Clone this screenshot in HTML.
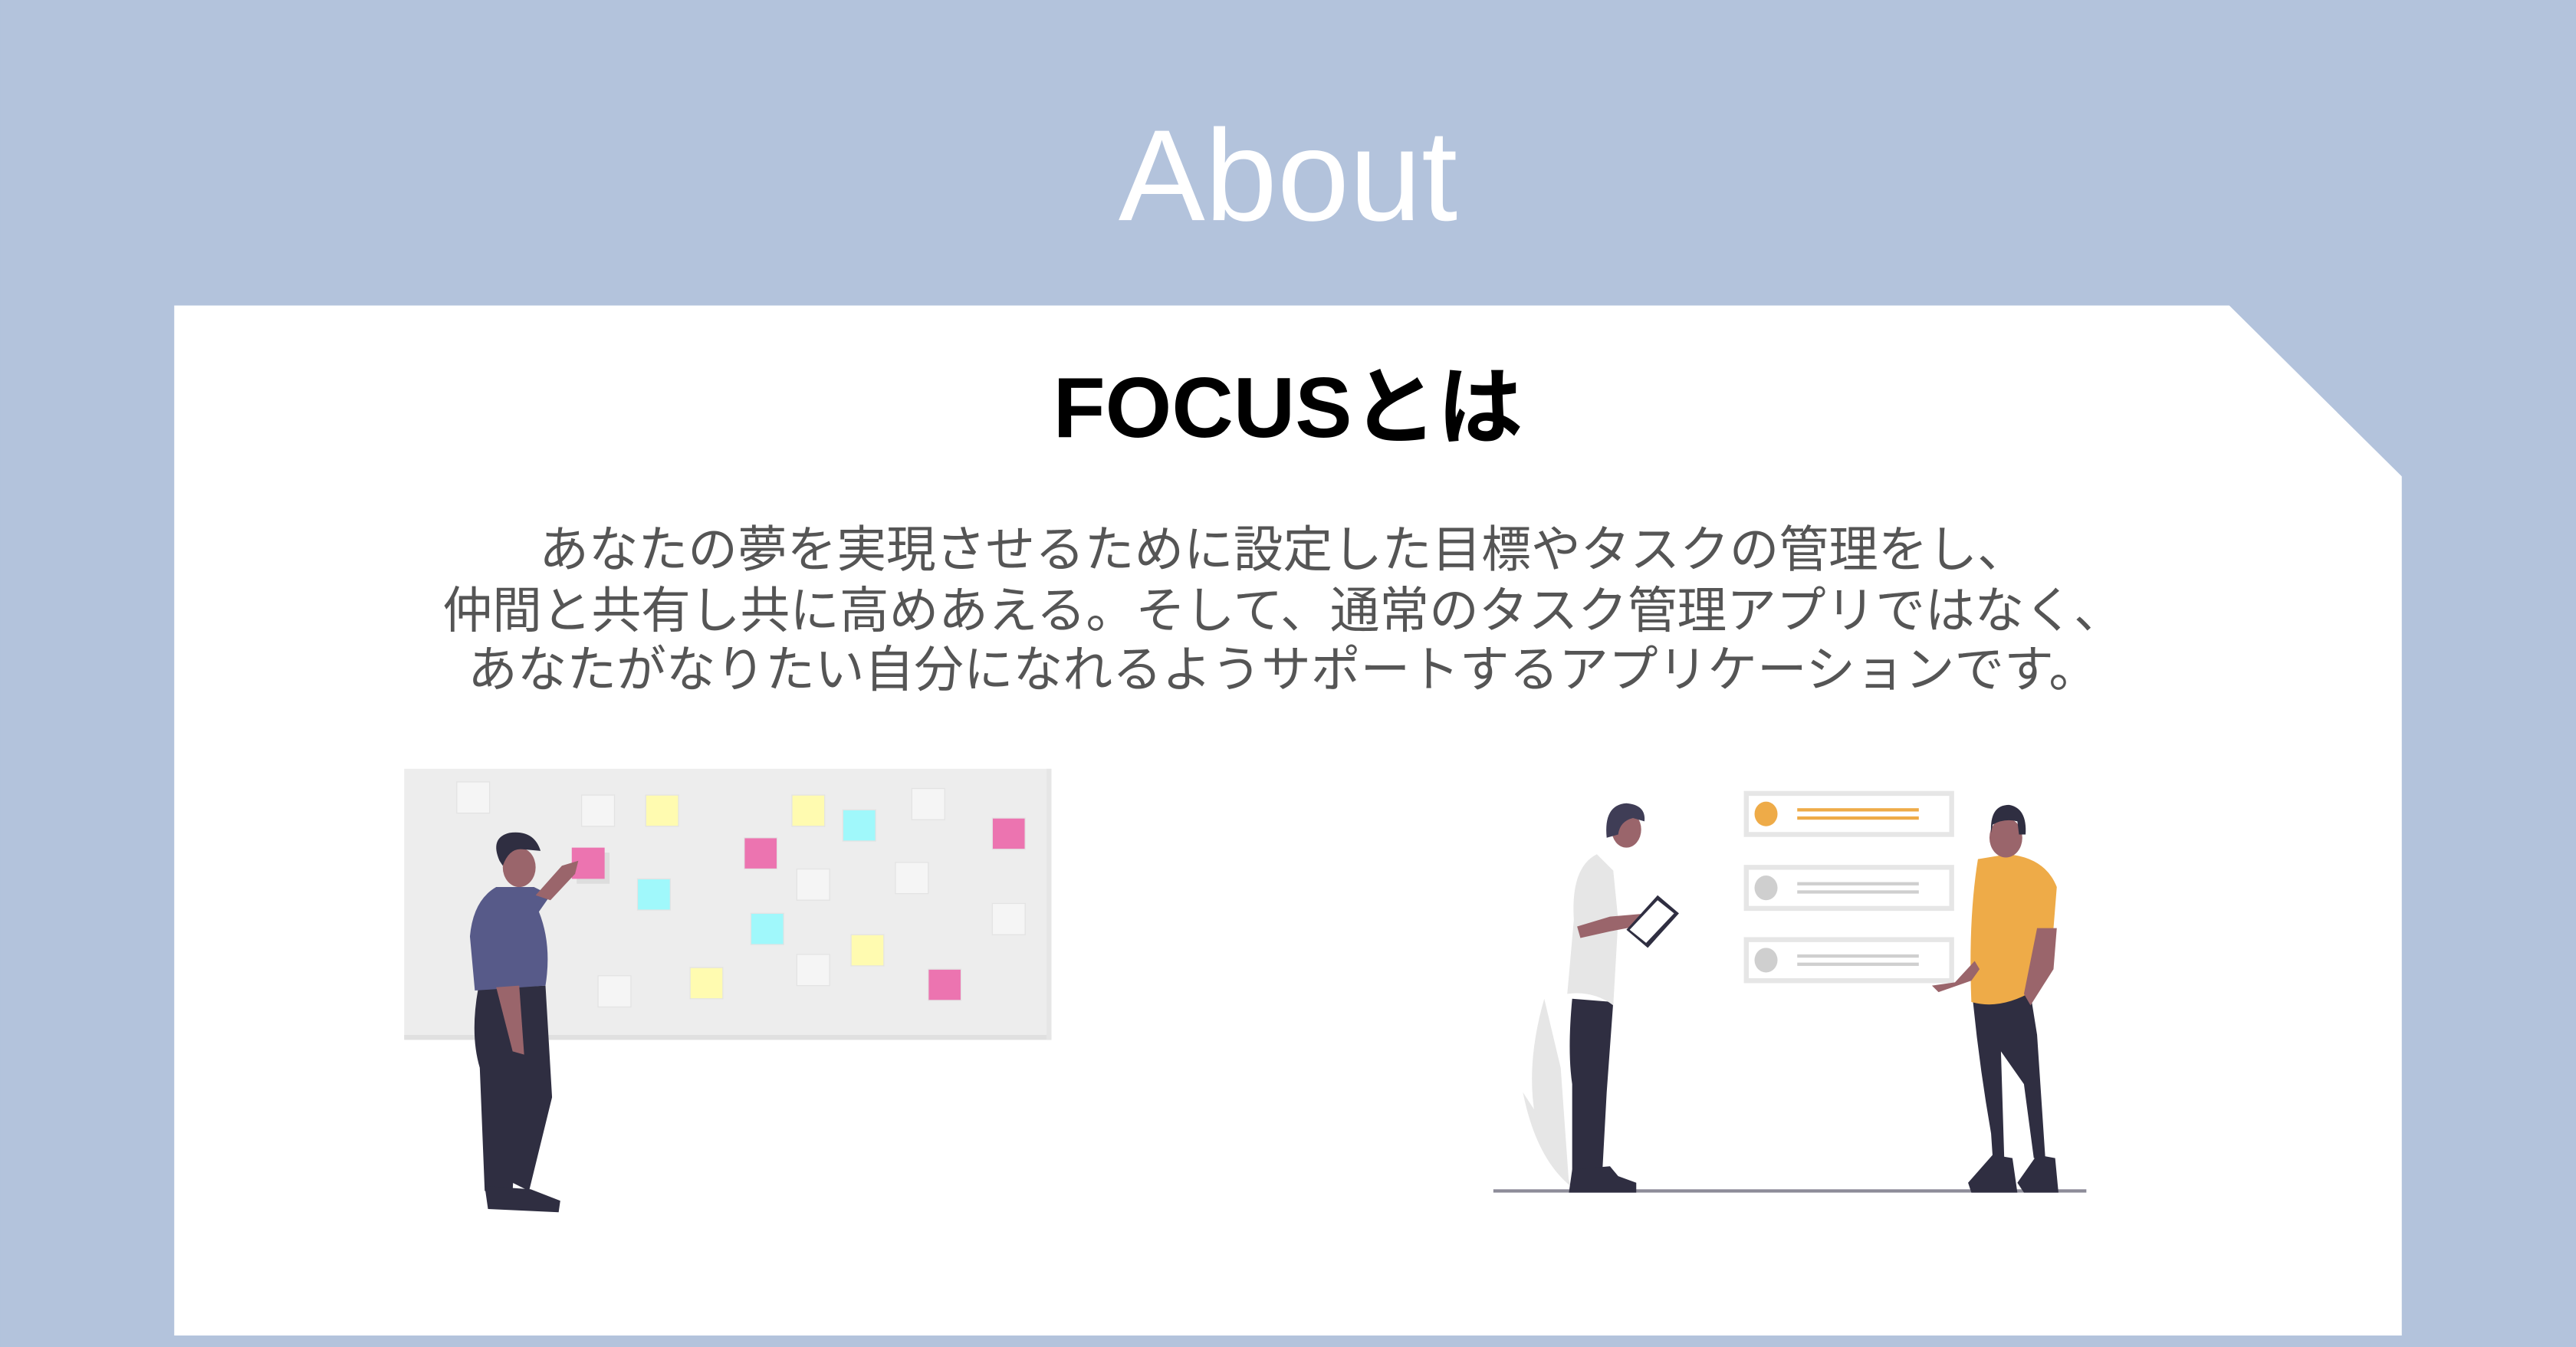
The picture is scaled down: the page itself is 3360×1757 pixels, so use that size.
<!DOCTYPE html>
<html><head><meta charset="utf-8"><style>
html,body{margin:0;padding:0;background:#b3c3dc;}
svg{display:block}
</style></head><body>
<svg width="3360" height="1757" viewBox="0 0 1568 820" xmlns="http://www.w3.org/2000/svg">
<rect width="1568" height="820" fill="#b3c3dc"/>
<text x="784" y="134" text-anchor="middle" font-family="Liberation Sans, sans-serif" font-size="79" fill="#fff">About</text>
<polygon points="106,186 1357,186 1462,290 1462,813 106,813" fill="#fff"/>
<text x="784" y="266" text-anchor="middle" font-family="Liberation Sans, 'Noto Sans CJK JP', sans-serif" font-weight="bold" font-size="52" fill="#000">FOCUSとは</text>
<g font-family="Liberation Sans, 'Noto Sans CJK JP', sans-serif" font-size="30.2" fill="#555" text-anchor="middle">
<text x="781" y="345">あなたの夢を実現させるために設定した目標やタスクの管理をし、</text>
<text x="781" y="382">仲間と共有し共に高めあえる。そして、通常のタスク管理アプリではなく、</text>
<text x="781" y="418">あなたがなりたい自分になれるようサポートするアプリケーションです。</text>
</g>
<!-- left board -->
<rect x="246" y="468" width="394" height="165" fill="#ededed"/>
<rect x="246" y="630" width="394" height="3" fill="#e0e0e0"/>
<rect x="637" y="468" width="3" height="165" fill="#e6e6e6"/>
<g stroke="#e3e3e3" stroke-width="0.6">
<rect x="278" y="476" width="20" height="19" fill="#f5f5f5"/>
<rect x="354" y="484" width="20" height="19" fill="#f5f5f5"/>
<rect x="393" y="484" width="20" height="19" fill="#fffbb0"/>
<rect x="482" y="484" width="20" height="19" fill="#fffbb0"/>
<rect x="513" y="493" width="20" height="19" fill="#a0f8fb"/>
<rect x="555" y="480" width="20" height="19" fill="#f5f5f5"/>
<rect x="604" y="498" width="20" height="19" fill="#ec74b0"/>
<rect x="453" y="510" width="20" height="19" fill="#ec74b0"/>
<rect x="485" y="529" width="20" height="19" fill="#f5f5f5"/>
<rect x="545" y="525" width="20" height="19" fill="#f5f5f5"/>
<rect x="388" y="535" width="20" height="19" fill="#a0f8fb"/>
<rect x="457" y="556" width="20" height="19" fill="#a0f8fb"/>
<rect x="518" y="569" width="20" height="19" fill="#fffbb0"/>
<rect x="604" y="550" width="20" height="19" fill="#f5f5f5"/>
<rect x="364" y="594" width="20" height="19" fill="#f5f5f5"/>
<rect x="420" y="589" width="20" height="19" fill="#fffbb0"/>
<rect x="485" y="581" width="20" height="19" fill="#f5f5f5"/>
<rect x="565" y="590" width="20" height="19" fill="#ec74b0"/>
</g>
<rect x="351" y="519" width="20" height="19" fill="#ddd"/>
<rect x="348" y="516" width="20" height="19" fill="#ec74b0"/>
<!-- left person -->
<path d="M291,602 Q286,630 292,650 L295,725 L312,725 L315,670 L312,720 L322,725 L336,668 L332,600 Z" fill="#2f2e41"/>
<path d="M295,722 L297,736 L340,738 L341,731 L323,724 Z" fill="#2f2e41"/>
<path d="M302,540 Q288,548 286,570 L289,603 L332,600 Q336,575 328,555 L335,545 L325,540 Z" fill="#575a89"/>
<path d="M326,545 L342,527 L352,524 L350,532 L335,548 Z" fill="#9a656b"/>
<path d="M302,601 L312,640 L319,642 L316,600 Z" fill="#9a656b"/>
<ellipse cx="316" cy="528" rx="10" ry="12" fill="#9a656b"/>
<path d="M304,524 Q298,510 310,507 Q325,505 329,518 L318,517 Q310,516 306,527 Z" fill="#2f2e41"/>
<!-- right illustration -->
<path d="M940,608 Q925,660 940,700 L955,720 L950,650 Z" fill="#e6e6e6"/>
<path d="M927,665 Q935,705 956,722 L950,700 Z" fill="#e6e6e6"/>
<rect x="909" y="724" width="361" height="2" fill="#8d8c99"/>
<g fill="#fff" stroke="#e6e6e6" stroke-width="3">
<rect x="1063" y="483" width="125" height="25"/>
<rect x="1063" y="528" width="125" height="25"/>
<rect x="1063" y="572" width="125" height="25"/>
</g>
<ellipse cx="1075" cy="495.5" rx="7" ry="7.5" fill="#eeab48"/>
<ellipse cx="1075" cy="540.5" rx="7" ry="7.5" fill="#cfcfcf"/>
<ellipse cx="1075" cy="584.5" rx="7" ry="7.5" fill="#cfcfcf"/>
<rect x="1094" y="492" width="74" height="2" fill="#eeab48"/><rect x="1094" y="497" width="74" height="2" fill="#eeab48"/>
<rect x="1094" y="537" width="74" height="2" fill="#cfcfcf"/><rect x="1094" y="542" width="74" height="2" fill="#cfcfcf"/>
<rect x="1094" y="581" width="74" height="2" fill="#cfcfcf"/><rect x="1094" y="586" width="74" height="2" fill="#cfcfcf"/>
<!-- man 1 -->
<path d="M957,608 Q954,640 957,660 L957,720 L975,720 L978,665 L982,610 Z" fill="#2f2e41"/>
<path d="M957,712 L955,726 L996,726 L996,720 L985,716 L980,710 Z" fill="#2f2e41"/>
<path d="M972,520 Q956,528 958,560 L954,605 Q970,603 982,612 L985,560 L982,530 Z" fill="#e6e6e6"/>
<path d="M960,564 L980,558 L1003,556 L1006,562 L980,567 L962,571 Z" fill="#9a656b"/>
<path d="M990,566 L1009,545 L1022,556 L1003,577 Z" fill="#2f2e41"/><path d="M992,566 L1009,548 L1019,556 L1002,574 Z" fill="#fff"/>
<ellipse cx="990" cy="505" rx="9" ry="11" fill="#9a656b"/>
<path d="M978,510 Q976,490 990,489 Q1002,490 1001,500 L994,498 Q986,500 985,508 Z" fill="#3f3d56"/>
<!-- man 2 -->
<path d="M1201,610 Q1205,650 1212,690 L1213,705 L1220,705 L1218,640 L1232,660 L1238,705 L1245,705 L1240,630 L1236,605 Z" fill="#2f2e41"/>
<path d="M1213,703 L1198,720 L1200,726 L1228,726 L1225,705 Z M1240,703 L1228,720 L1232,726 L1253,726 L1251,705 Z" fill="#2f2e41"/>
<path d="M1204,523 Q1198,560 1200,610 Q1218,615 1238,603 L1237,590 L1250,565 L1252,540 Q1245,522 1222,520 Z" fill="#eeab48"/>
<path d="M1240,565 L1252,565 L1250,590 L1236,612 L1232,605 Z" fill="#9a656b"/>
<path d="M1202,585 L1190,598 L1176,600 L1180,604 L1200,597 L1205,590 Z" fill="#9a656b"/>
<ellipse cx="1221" cy="510" rx="10" ry="12" fill="#9a656b"/>
<path d="M1212,507 Q1211,490 1223,490 Q1234,492 1233,508 L1229,508 L1228,500 Q1220,498 1213,502 Z" fill="#2f2e41"/>
</svg>
</body></html>
